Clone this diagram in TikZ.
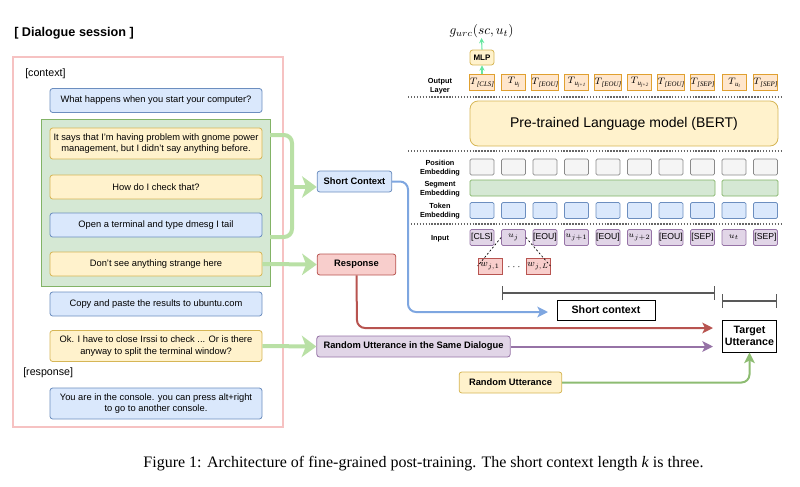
\documentclass[tikz,border=0pt]{standalone}
\usepackage{fontspec}
\setmainfont{Liberation Serif}
\setsansfont{Liberation Sans}
\usetikzlibrary{arrows.meta}

\definecolor{blueF}{HTML}{DAE8FC}
\definecolor{blueD}{HTML}{6C8EBF}
\definecolor{yellowF}{HTML}{FFF2CC}
\definecolor{yellowD}{HTML}{D6B656}
\definecolor{greenF}{HTML}{D5E8D4}
\definecolor{greenD}{HTML}{82B366}
\definecolor{redF}{HTML}{F8CECC}
\definecolor{redD}{HTML}{B85450}
\definecolor{purpleF}{HTML}{E1D5E7}
\definecolor{purpleD}{HTML}{9673A6}
\definecolor{grayF}{HTML}{F5F5F5}
\definecolor{grayD}{HTML}{8A8A8A}
\definecolor{orangeF}{HTML}{FFE6CC}
\definecolor{orangeD}{HTML}{E0A030}
\definecolor{pinkD}{HTML}{F6C2C2}
\definecolor{lightgreen}{HTML}{B9E0A5}
\definecolor{linkblue}{HTML}{7EA6E0}
\definecolor{mint}{HTML}{66E6A0}

\tikzset{
  box/.style={rectangle, rounded corners=2pt, line width=0.6pt, inner sep=1pt, align=center,
    font=\sffamily\fontsize{7}{8.4}\selectfont},
  utt/.style={box, minimum width=159pt, minimum height=18pt},
  bluebox/.style={utt, draw=blueD, fill=blueF},
  yellowbox/.style={utt, draw=yellowD, fill=yellowF},
  tag/.style={box, font=\sffamily\bfseries\fontsize{7}{8.4}\selectfont, minimum height=15.75pt},
  plainbox/.style={rectangle, draw=black, line width=0.7pt, fill=white, align=center,
    font=\sffamily\bfseries\fontsize{8}{9.4}\selectfont},
  tokbase/.style={rectangle, line width=0.6pt, minimum width=18pt, minimum height=12pt, inner sep=0pt},
  outbox/.style={tokbase, draw=orangeD, fill=orangeF, font=\fontsize{7}{8}\selectfont},
  posbox/.style={tokbase, rounded corners=1pt, draw=grayD, fill=grayF},
  tokbox/.style={tokbase, rounded corners=1pt, draw=blueD, fill=blueF},
  inbox/.style={tokbase, rounded corners=1pt, draw=purpleD, fill=purpleF, font=\sffamily\fontsize{6.5}{8}\selectfont},
  wbox/.style={tokbase, draw=redD, fill=redF, font=\fontsize{7}{8}\selectfont},
  rowlbl/.style={align=center, inner sep=0pt, font=\sffamily\bfseries\fontsize{5.5}{6.75}\selectfont},
  sep/.style={gray!80!black, line width=1pt, dash pattern=on 1.1pt off 1.1pt},
  bigarrow/.style={lightgreen, line width=3pt, -{Stealth[length=11pt, width=16pt, inset=3pt]}},
  link/.style={line width=1.5pt, rounded corners=6pt, -{Stealth[length=8pt, width=8pt, inset=2pt]}},
  dim/.style={gray!70!black, line width=0.8pt, {Bar[width=10.5pt]}-{Bar[width=10.5pt]}}
}
% output-layer label: T with a small italic index
\newcommand{\tsub}[1]{$T$\kern-0.6pt\raisebox{-1.4pt}{\fontsize{5.2}{6}\selectfont\itshape #1}}
\newcommand{\usub}[1]{u\raisebox{-0.8pt}{\fontsize{3.7}{4}\selectfont #1}}

\begin{document}
\begin{tikzpicture}[x=0.75pt, y=-0.75pt]
\useasboundingbox (0,0) rectangle (800,486);

% dialogue session
\node[anchor=west, inner sep=0pt, font=\sffamily\bfseries\fontsize{9.5}{11}\selectfont] (title) at (14,33) {[ Dialogue session ]};
\draw[pinkD, line width=1.5pt] (13,57) rectangle (283,427);
\node[anchor=west, inner sep=0pt, font=\sffamily\fontsize{8}{9}\selectfont] (ctxlbl) at (25,74) {[context]};
\node[rectangle, draw=greenD, fill=greenF, line width=0.6pt, minimum width=171.75pt, minimum height=125.25pt] (ctxarea) at (155.5,202.5) {};

\node[bluebox] (u1) at (156,100.5) {What happens when you start your computer?};
\node[yellowbox, minimum height=23.25pt] (u2) at (156,143.5) {It says that I'm having problem with gnome power\\management, but I didn't say anything before.};
\node[yellowbox] (u3) at (156,187) {How do I check that?};
\node[bluebox] (u4) at (156,225) {Open a terminal and type dmesg I tail};
\node[yellowbox] (u5) at (156,264) {Don't see anything strange here};
\node[bluebox] (u6) at (156,304) {Copy and paste the results to ubuntu.com};
\node[yellowbox, minimum height=23.25pt] (u7) at (156,346) {Ok. I have to close Irssi to check ... Or is there\\anyway to split the terminal window?};
\node[anchor=west, inner sep=0pt, font=\sffamily\fontsize{8}{9}\selectfont] (resplbl) at (23,373) {[response]};
\node[bluebox, minimum height=23.25pt] (u8) at (156,403.5) {You are in the console. you can press alt+right\\to go to another console.};

% sampled parts
\node[tag, draw=blueD, fill=blueF, minimum width=56pt] (shortctx) at (354.5,181.5) {Short Context};
\node[tag, draw=redD, fill=redF, minimum width=59pt] (response) at (356.5,264.5) {Response};
\node[tag, draw=purpleD, fill=purpleF, minimum width=145pt] (randsame) at (413.5,346.5) {Random Utterance in the Same Dialogue};
\node[tag, draw=yellowD, fill=yellowF, minimum width=77pt] (randutt) at (510.5,382.5) {Random Utterance};

\draw[lightgreen, line width=3pt, rounded corners=6pt] (270,135) -- (292,135) -- (292,237) -- (270,237);
\coordinate (brk) at (292,187);
\draw[bigarrow] (brk) -- (brk -| shortctx.west);
\draw[bigarrow] (u5.east) -- (response.west);
\draw[bigarrow] (u7.east) -- (randsame.west);

% model
\node[inner sep=0pt, font=\fontsize{10}{12}\selectfont] (gurc) at (481.5,31) {$g_{urc}(sc, u_t)$};
\node[box, draw=yellowD, fill=yellowF, minimum width=18pt, minimum height=11.25pt, inner sep=0pt,
  font=\sffamily\bfseries\fontsize{6}{7}\selectfont] (mlp) at (482,57.5) {MLP};

\foreach \i/\t in {1/{[CLS]}, 2/{\usub{j}}, 3/{[EOU]}, 4/{\usub{j+1}}, 5/{[EOU]},
  6/{\usub{j+2}}, 7/{[EOU]}, 8/{[SEP]}, 9/{\usub{t}}, 10/{[SEP]}}
  \node[outbox] (out\i) at ({482+31.5*(\i-1)},82.5) {\tsub{\t}};
\draw[mint, line width=0.8pt, -{Stealth[length=4pt, width=4pt]}] (out1.north) -- (mlp.south);
\draw[mint, line width=0.8pt, -{Stealth[length=4pt, width=4pt]}] (mlp.north) -- (gurc.south);

\draw[sep] (408,97) -- (783,97);
\node[box, rounded corners=6pt, draw=yellowD, fill=yellowF, minimum width=231pt, minimum height=33.75pt,
  font=\sffamily\fontsize{10.5}{12}\selectfont] (bert) at (624,123.5) {Pre-trained Language model (BERT)};
\draw[sep] (408,151) -- (783,151);

\foreach \i in {1,...,10} {
  \node[posbox] (pos\i) at ({482+31.5*(\i-1)},167) {};
  \node[tokbox] (tok\i) at ({482+31.5*(\i-1)},210.5) {};
}
\node[tokbase, rounded corners=1pt, draw=greenD, fill=greenF, minimum width=183.75pt] (seg1) at (592.5,188) {};
\node[tokbase, rounded corners=1pt, draw=greenD, fill=greenF, minimum width=42pt] (seg2) at (750,188) {};
\draw[sep] (408,224) -- (783,224);

\foreach \i/\t in {1/{[CLS]}, 2/{$u_j$}, 3/{[EOU]}, 4/{$u_{j+1}$}, 5/{[EOU]},
  6/{$u_{j+2}$}, 7/{[EOU]}, 8/{[SEP]}, 9/{$u_t$}, 10/{[SEP]}}
  \node[inbox] (in\i) at ({482+31.5*(\i-1)},237.5) {\t};

\node[rowlbl] (outlbl) at (440,86) {Output\\Layer};
\node[rowlbl] (poslbl) at (440,168.5) {Position\\Embedding};
\node[rowlbl] (seglbl) at (440,189) {Segment\\Embedding};
\node[rowlbl] (toklbl) at (440,211.5) {Token\\Embedding};
\node[rowlbl] (inlbl) at (440,239) {Input};

\node[wbox] (w1) at (490,266) {$w_{j,1}$};
\node[wbox] (wL) at (538,266) {$w_{j,L}$};
\node[inner sep=0pt, font=\fontsize{7}{8}\selectfont] (wdots) at (514,267) {$\cdots$};
\draw[dashed, line width=0.5pt, dash pattern=on 1.5pt off 1.5pt] (in2.west) -- (w1.west);
\draw[dashed, line width=0.5pt, dash pattern=on 1.5pt off 1.5pt] (in2.east) -- (wL.east);

% targets
\draw[dim] (502,293) -- (715,293);
\draw[dim] (722,301) -- (777,301);
\node[plainbox, minimum width=73.5pt, minimum height=15pt] (shortbox) at (606,310) {Short context};
\node[plainbox, minimum width=41pt, minimum height=24pt, inner sep=1pt] (target) at (749.5,336) {Target\\Utterance};

\coordinate (bluetip) at (548,312);
\coordinate (redtip) at (713,328);
\coordinate (purptip) at (713,346.5);
\draw[link, linkblue] (shortctx.east) -- (408,181.5) -- (408,312) -- (bluetip);
\draw[link, redD] (response.south) -- (357,328) -- (redtip);
\draw[link, purpleD] (randsame.east) -- (purptip);
\draw[link, greenD!80!lightgreen] (randutt.east) -| (target.south);

% caption
\node[inner sep=0pt, font=\fontsize{12}{14}\selectfont] (caption) at (423.5,463.5)
  {Figure 1: Architecture of fine-grained post-training. The short context length \textit{k} is three.};
\end{tikzpicture}
\end{document}
